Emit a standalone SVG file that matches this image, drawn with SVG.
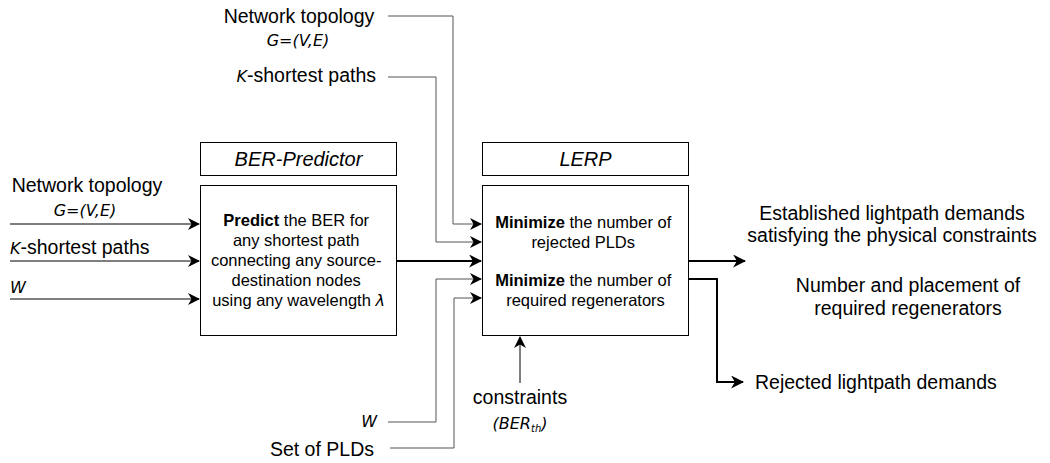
<svg xmlns="http://www.w3.org/2000/svg" width="1050" height="463" viewBox="0 0 1050 463">
<style>
text{font-family:"Liberation Sans",Arial,sans-serif;fill:#000}
.o{font-size:19.5px}
.b{font-size:16.5px}
.lab{font-size:20px;font-style:italic}
.m{font-family:"DejaVu Sans",sans-serif;font-style:italic;font-size:16px}
.box{fill:#fff;stroke:#000;stroke-width:1}
.thin{fill:none;stroke:#000;stroke-width:1}
.gray{fill:none;stroke:#555;stroke-width:1}
.thick{fill:none;stroke:#000;stroke-width:2}
</style>
<defs>
<marker id="ah" viewBox="0 0 12 12" refX="11" refY="6" markerWidth="12" markerHeight="12" markerUnits="userSpaceOnUse" orient="auto">
<path d="M0,0 L12,6 L0,12 L3.5,6 z" fill="#000"/>
</marker>
<marker id="ah2" viewBox="0 0 12 12" refX="11" refY="6" markerWidth="13" markerHeight="13" markerUnits="userSpaceOnUse" orient="auto">
<path d="M0,0 L12,6 L0,12 L3.5,6 z" fill="#000"/>
</marker>
</defs>
<g id="connectors">
<path class="thin" d="M10,224 H199" marker-end="url(#ah)"/>
<path class="thin" d="M10,261 H199" marker-end="url(#ah)"/>
<path class="thin" d="M10,299 H199" marker-end="url(#ah)"/>
<path class="gray" d="M388,16 H453 V224 H481" marker-end="url(#ah)"/>
<path class="gray" d="M388,77 H436 V242 H481" marker-end="url(#ah)"/>
<path class="thick" d="M397,261 H481" marker-end="url(#ah2)"/>
<path class="gray" d="M388,422 H436 V279 H481" marker-end="url(#ah)"/>
<path class="gray" d="M390,448 H454 V298 H481" marker-end="url(#ah)"/>
<path class="thin" d="M520,383 V337" marker-end="url(#ah)"/>
<path class="thick" d="M689,261 H745" marker-end="url(#ah2)"/>
<path class="thick" d="M689,279 H717 V382 H743" marker-end="url(#ah2)"/>
</g>
<g id="ber-label">
<rect class="box" x="200.5" y="142.5" width="196" height="33"/>
<text class="lab" x="298.5" y="166" text-anchor="middle">BER-Predictor</text>
</g>
<g id="ber-predictor">
<rect class="box" x="200.5" y="185.5" width="196" height="150"/>
<text class="b" text-anchor="middle">
<tspan x="298.5" y="226"><tspan font-weight="bold">Predict</tspan> the BER for</tspan>
<tspan x="298.5" y="245.5">any shortest path</tspan>
<tspan x="298.5" y="265.5">connecting any source-</tspan>
<tspan x="298.5" y="285.5">destination nodes</tspan>
<tspan x="298.5" y="306">using any wavelength <tspan class="m">λ</tspan></tspan>
</text>
</g>
<g id="lerp-label">
<rect class="box" x="482.5" y="142.5" width="206" height="33"/>
<text class="lab" x="585.5" y="166" text-anchor="middle">LERP</text>
</g>
<g id="lerp">
<rect class="box" x="482.5" y="185.5" width="206" height="150"/>
<text class="b" text-anchor="middle">
<tspan x="585.5" y="228"><tspan font-weight="bold">Minimize</tspan> the number of</tspan>
<tspan x="585.5" y="248">rejected PLDs</tspan>
<tspan x="585.5" y="286"><tspan font-weight="bold">Minimize</tspan> the number of</tspan>
<tspan x="585.5" y="306">required regenerators</tspan>
</text>
</g>
<g id="top-inputs">
<text class="o" x="299" y="23" text-anchor="middle">Network topology</text>
<text class="m" x="298" y="46" text-anchor="middle">G=(V,E)</text>
<text class="o" x="376" y="82" text-anchor="end"><tspan class="m">K</tspan>-shortest paths</text>
</g>
<g id="left-inputs">
<text class="o" x="87" y="192" text-anchor="middle">Network topology</text>
<text class="m" x="85" y="216" text-anchor="middle">G=(V,E)</text>
<text class="o" x="10" y="254"><tspan class="m">K</tspan>-shortest paths</text>
<text class="m" x="10" y="293">W</text>
</g>
<g id="bottom-inputs">
<text class="m" x="377" y="427" text-anchor="end">W</text>
<text class="o" x="374" y="456" text-anchor="end">Set of PLDs</text>
<text class="o" x="520" y="404" text-anchor="middle">constraints</text>
<text class="m" x="520" y="429" text-anchor="middle">(BER<tspan font-size="10" dy="3">th</tspan><tspan dy="-3">)</tspan></text>
</g>
<g id="outputs">
<text class="o" x="892" y="220" text-anchor="middle">Established lightpath demands</text>
<text class="o" x="892" y="242" text-anchor="middle">satisfying the physical constraints</text>
<text class="o" x="908" y="292" text-anchor="middle">Number and placement of</text>
<text class="o" x="908" y="315" text-anchor="middle">required regenerators</text>
<text class="o" x="755" y="389">Rejected lightpath demands</text>
</g>
</svg>
